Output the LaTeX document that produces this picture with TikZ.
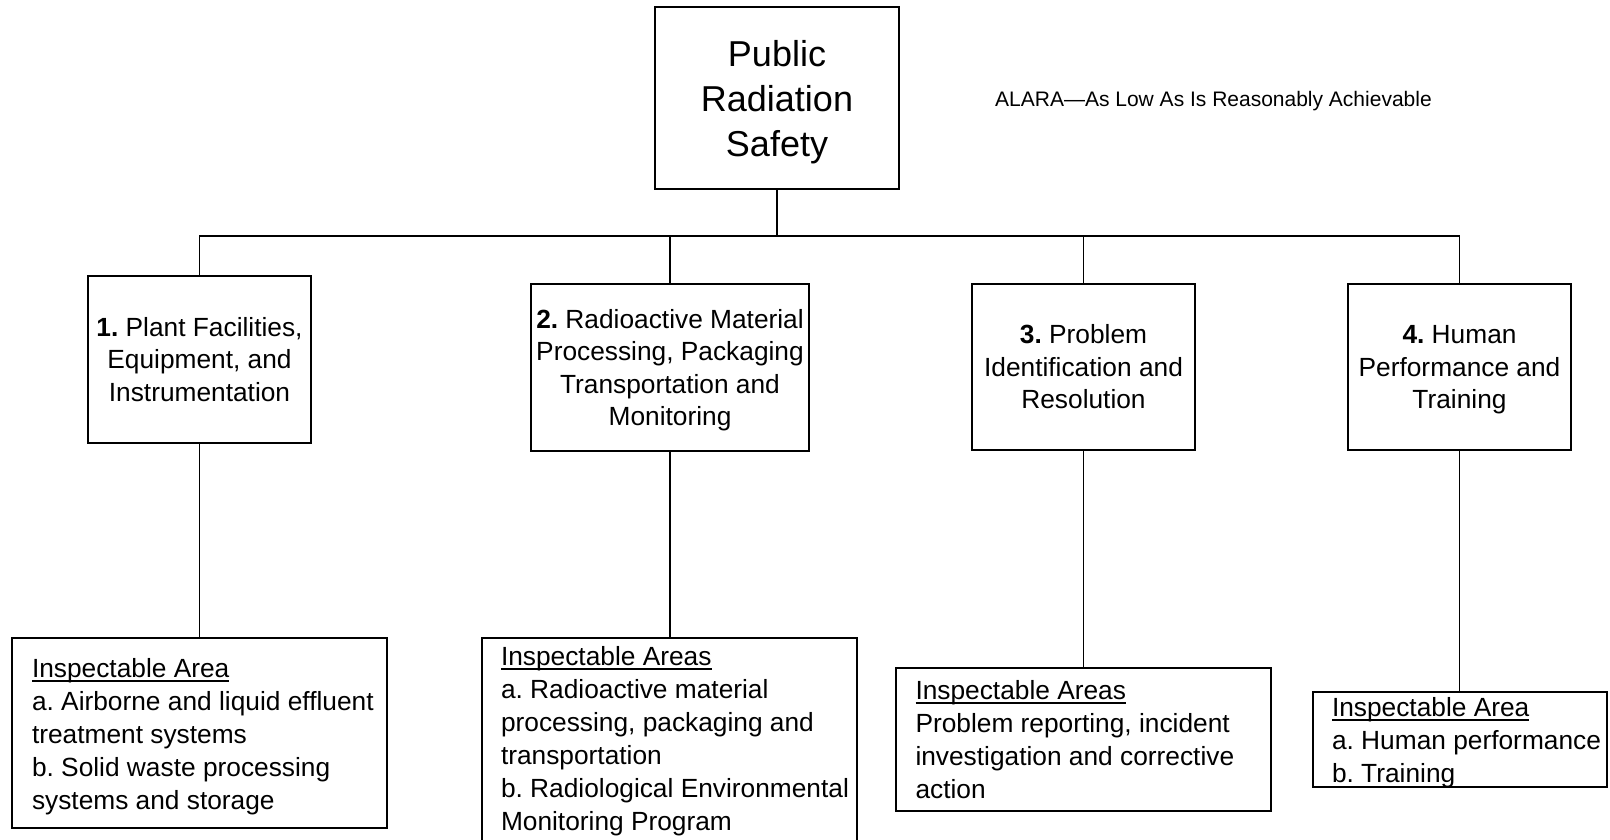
\documentclass[tikz,border=0pt]{standalone}
\usepackage{fontspec}
\setmainfont{Liberation Sans}
% underline drawn just under the baseline, crossing the descenders
\newcommand{\ulword}[1]{\setbox0=\hbox{#1}\rlap{\rule[-4.5pt]{\wd0}{1.6pt}}\box0}
\begin{document}
\frenchspacing
\begin{tikzpicture}[x=1pt,y=-1pt,
  box/.style={draw=black, line width=1.2pt, inner sep=0pt, outer sep=0pt},
  head/.style={box, align=center, font=\fontsize{26.3}{32.5}\selectfont},
  areabox/.style={box},
  areatext/.style={anchor=north west, inner sep=0pt, outer sep=0pt, align=left,
                   font=\fontsize{26.3}{33}\selectfont},
  link/.style={line width=1.1pt, black}]
\useasboundingbox (0,0) rectangle (1610,840);

% root
\node[box, minimum width=244, minimum height=182, align=center,
      font=\fontsize{36}{45}\selectfont] (top) at (777,98)
  {Public\\Radiation\\\smash{Safety}};
\node[anchor=base west, inner sep=0pt, font=\fontsize{21}{25}\selectfont] (alara) at (995,107)
  {ALARA---As Low As Is Reasonably Achievable};

% cornerstones
\node[head, minimum width=223, minimum height=167] (n1) at (199.5,359.5)
  {\textbf{1.} Plant Facilities,\\Equipment, and\\Instrumentation};
\node[head, minimum width=278, minimum height=167] (n2) at (670,367.5)
  {\textbf{2.} Radioactive Material\\Processing, Packaging\\Transportation and\\\smash{Monitoring}};
\node[head, minimum width=223, minimum height=166] (n3) at (1083.5,367)
  {\textbf{3.} Problem\\Identification and\\Resolution};
\node[head, minimum width=223, minimum height=166] (n4) at (1459.5,367)
  {\textbf{4.} Human\\Performance and\\\smash{Training}};

% inspectable areas
\node[areabox, minimum width=375, minimum height=190] (a1) at (199.5,733) {};
\node[areabox, minimum width=375, minimum height=212] (a2) at (669.5,744) {};
\node[areabox, minimum width=375, minimum height=143] (a3) at (1083.5,739.5) {};
\node[areabox, minimum width=294, minimum height=95] (a4) at (1460,739.5) {};

\node[areatext] (a1t) at ([shift={(20,20)}]a1.north west)
  {\ulword{Inspectable Area}\\a. Airborne and liquid effluent\\treatment systems\\b. Solid waste processing\\systems and storage};
\node[areatext] (a2t) at ([shift={(19,8)}]a2.north west)
  {\ulword{Inspectable Areas}\\a. Radioactive material\\processing, packaging and\\transportation\\b. Radiological Environmental\\Monitoring Program};
\node[areatext] (a3t) at ([shift={(19.5,12)}]a3.north west)
  {\ulword{Inspectable Areas}\\Problem reporting, incident\\investigation and corrective\\action};
\node[areatext] (a4t) at ([shift={(19,5)}]a4.north west)
  {\ulword{Inspectable Area}\\a. Human performance\\b. Training};

% connectors
\coordinate (bus) at (777,236);
\draw[link] (top.south) -- (bus);
\draw[link] (n1.north) -- (n1.north |- bus) -- (n4.north |- bus) -- (n4.north);
\draw[link] (n2.north) -- (n2.north |- bus);
\draw[link] (n3.north) -- (n3.north |- bus);
\draw[link] (n1.south) -- (n1.south |- a1.north);
\draw[link] (n2.south) -- (n2.south |- a2.north);
\draw[link] (n3.south) -- (n3.south |- a3.north);
\draw[link] (n4.south) -- (n4.south |- a4.north);
\end{tikzpicture}
\end{document}
